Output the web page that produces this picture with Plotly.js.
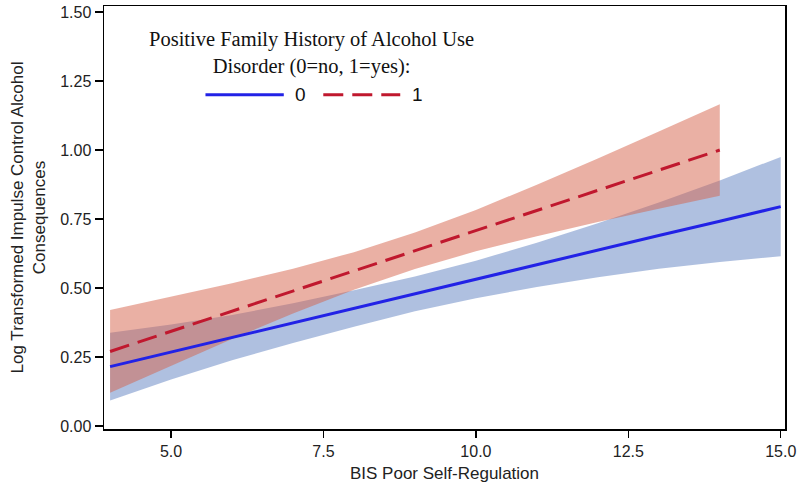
<!DOCTYPE html>
<html>
<head>
<meta charset="utf-8">
<script src="https://cdn.plot.ly/plotly-3.0.1.min.js"></script>
<style>
  body { margin: 0; background: #fff; }
  #chart { width: 800px; height: 493px; }
</style>
</head>
<body>
<div id="chart"></div>
<script>
// BIS poor self-regulation values where the estimates were read
var bis = [4, 5, 6, 7, 8, 9, 10, 11, 12, 13, 14, 15];
var bisFH = [4, 5, 6, 7, 8, 9, 10, 11, 12, 13, 14];

// FH = 0 (no family history)
var fit0 = [0.215, 0.268, 0.320, 0.373, 0.426, 0.479, 0.531, 0.584, 0.637, 0.690, 0.742, 0.795];
var upper0 = [0.338, 0.368, 0.402, 0.445, 0.492, 0.542, 0.599, 0.664, 0.735, 0.810, 0.890, 0.975];
var lower0 = [0.092, 0.168, 0.238, 0.301, 0.360, 0.416, 0.463, 0.504, 0.539, 0.570, 0.594, 0.615];

// FH = 1 (positive family history)
var fit1 = [0.270, 0.343, 0.416, 0.489, 0.562, 0.635, 0.708, 0.781, 0.854, 0.927, 1.000];
var upper1 = [0.420, 0.468, 0.517, 0.570, 0.630, 0.701, 0.783, 0.874, 0.969, 1.067, 1.166];
var lower1 = [0.120, 0.218, 0.315, 0.408, 0.494, 0.569, 0.633, 0.688, 0.739, 0.787, 0.834];

var groupLabels = ['0', '1'];
var legendTitle = 'Positive Family History of Alcohol Use<br>Disorder (0=no, 1=yes):';

var blueLine = '#2222e6';
var redLine = '#c0182e';
var blueBand = 'rgba(95,129,193,0.5)';
var redBand = 'rgba(213,97,73,0.5)';
var redDash = '20px,9px';

var data = [
  { x: bis, y: upper0, mode: 'lines', line: { width: 0 }, showlegend: false, hoverinfo: 'skip', type: 'scatter' },
  { x: bis, y: lower0, mode: 'lines', line: { width: 0 }, fill: 'tonexty', fillcolor: blueBand,
    showlegend: false, hoverinfo: 'skip', type: 'scatter' },
  { x: bisFH, y: upper1, mode: 'lines', line: { width: 0 }, showlegend: false, hoverinfo: 'skip', type: 'scatter' },
  { x: bisFH, y: lower1, mode: 'lines', line: { width: 0 }, fill: 'tonexty', fillcolor: redBand,
    showlegend: false, hoverinfo: 'skip', type: 'scatter' },
  { x: bis, y: fit0, mode: 'lines', name: groupLabels[0], showlegend: false, line: { color: blueLine, width: 3 }, type: 'scatter' },
  { x: bisFH, y: fit1, mode: 'lines', name: groupLabels[1], showlegend: false, line: { color: redLine, width: 3, dash: redDash }, type: 'scatter' }
];

var sans = 'Liberation Sans, Arial, sans-serif';
var axisFont = { family: sans, size: 16, color: '#222' };

// legend drawn by hand so the line samples are as long as in the original
var legY = 0.79;
var shapes = [
  { type: 'line', xref: 'paper', yref: 'paper', x0: 0.149, x1: 0.264, y0: legY, y1: legY,
    line: { color: blueLine, width: 3 } },
  { type: 'line', xref: 'paper', yref: 'paper', x0: 0.322, x1: 0.435, y0: legY, y1: legY,
    line: { color: redLine, width: 3, dash: redDash } }
];

var annotations = [
  { xref: 'paper', yref: 'paper', x: 0.304, y: 0.952, xanchor: 'center', yanchor: 'top',
    showarrow: false, align: 'center', text: legendTitle,
    font: { family: 'Liberation Serif, Times New Roman, serif', size: 20.5, color: '#111' } },
  { xref: 'paper', yref: 'paper', x: 0.288, y: legY, xanchor: 'center', yanchor: 'middle',
    showarrow: false, text: groupLabels[0], font: { family: sans, size: 19, color: '#111' } },
  { xref: 'paper', yref: 'paper', x: 0.460, y: legY, xanchor: 'center', yanchor: 'middle',
    showarrow: false, text: groupLabels[1], font: { family: sans, size: 19, color: '#111' } }
];

var layout = {
  width: 800,
  height: 493,
  paper_bgcolor: '#fff',
  plot_bgcolor: '#fff',
  margin: { l: 104, r: 15, t: 6, b: 64 },
  showlegend: false,
  shapes: shapes,
  annotations: annotations,
  xaxis: {
    title: { text: 'BIS Poor Self-Regulation', font: { family: sans, size: 17, color: '#222' }, standoff: 8 },
    range: [3.9, 15.07],
    tickvals: [5, 7.5, 10, 12.5, 15],
    ticktext: ['5.0', '7.5', '10.0', '12.5', '15.0'],
    ticks: 'outside', ticklen: 7, tickwidth: 1.5, tickcolor: '#000',
    tickfont: axisFont,
    showgrid: false, zeroline: false,
    showline: true, linecolor: '#000', linewidth: 1.5, mirror: true
  },
  yaxis: {
    title: { text: 'Log Transformed Impulse Control Alcohol<br>Consequences', font: { family: sans, size: 17, color: '#222' }, standoff: 10 },
    range: [-0.011, 1.522],
    tickvals: [0, 0.25, 0.5, 0.75, 1.0, 1.25, 1.5],
    ticktext: ['0.00', '0.25', '0.50', '0.75', '1.00', '1.25', '1.50'],
    ticks: 'outside', ticklen: 8, tickwidth: 1.5, tickcolor: '#000',
    tickfont: axisFont,
    showgrid: false, zeroline: false,
    showline: true, linecolor: '#000', linewidth: 1.5, mirror: true
  }
};

Plotly.newPlot('chart', data, layout, { displayModeBar: false, staticPlot: true });
</script>
</body>
</html>
